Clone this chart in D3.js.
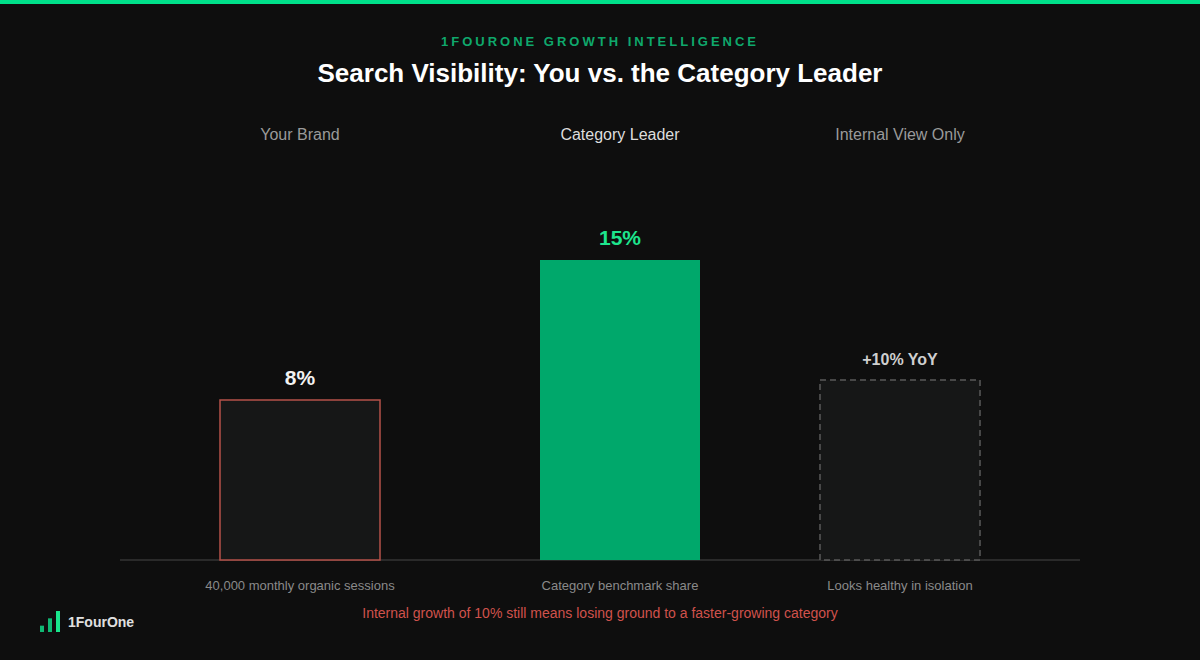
<!DOCTYPE html>
<html>
<head>
<meta charset="utf-8">
<script src="https://cdn.jsdelivr.net/npm/d3@7"></script>
<style>
  html, body { margin: 0; padding: 0; background: #0e0e0e; }
  svg { display: block; font-family: "Liberation Sans", Arial, sans-serif; }
</style>
</head>
<body>
<div id="chart"></div>
<script>
const categories = ["Your Brand", "Category Leader", "Internal View Only"];
const values = [8, 15, 9];
const valueLabels = ["8%", "15%", "+10% YoY"];
const notes = ["40,000 monthly organic sessions", "Category benchmark share", "Looks healthy in isolation"];
const logoBars = [1, 2, 3];

const width = 1200, height = 660;
const baseline = 560;

const svg = d3.select("#chart")
    .append("svg")
    .attr("width", width)
    .attr("height", height);

svg.append("rect").attr("width", width).attr("height", height).attr("fill", "#0e0e0e");
svg.append("rect").attr("width", width).attr("height", 4).attr("fill", "#00e08a");

svg.append("text")
    .attr("x", 600).attr("y", 46)
    .attr("text-anchor", "middle")
    .attr("fill", "#0fa86c")
    .attr("font-size", 13).attr("font-weight", "bold")
    .attr("letter-spacing", 3.0)
    .text("1FOURONE GROWTH INTELLIGENCE");

svg.append("text")
    .attr("x", 600).attr("y", 82)
    .attr("text-anchor", "middle")
    .attr("fill", "#ffffff")
    .attr("font-size", 26).attr("font-weight", "bold")
    .text("Search Visibility: You vs. the Category Leader");

// column centres are not evenly spaced in the original
const x = d3.scaleOrdinal()
    .domain(categories)
    .range([300, 620, 900]);
const barW = 160;

const y = d3.scaleLinear()
    .domain([0, 15])
    .range([baseline, 260]);

// column headers
svg.selectAll(".head")
    .data(categories)
    .join("text")
    .attr("x", d => x(d)).attr("y", 140)
    .attr("text-anchor", "middle")
    .attr("font-size", 16)
    .attr("fill", (d, i) => i === 1 ? "#dddddd" : "#9a9a9a")
    .text(d => d);

// axis line
svg.append("line")
    .attr("x1", 120).attr("x2", 1080)
    .attr("y1", baseline).attr("y2", baseline)
    .attr("stroke", "#2a2a2a").attr("stroke-width", 2);

const bars = svg.selectAll(".bar")
    .data(categories)
    .join("rect")
    .attr("x", d => x(d) - barW / 2)
    .attr("y", (d, i) => y(values[i]))
    .attr("width", barW)
    .attr("height", (d, i) => y(0) - y(values[i]));

bars.filter((d, i) => i === 0)
    .attr("fill", "#161717")
    .attr("stroke", "#b5524a").attr("stroke-width", 1.5);
bars.filter((d, i) => i === 1)
    .attr("fill", "#00a86b");
bars.filter((d, i) => i === 2)
    .attr("fill", "#161717")
    .attr("stroke", "#5a5a5a").attr("stroke-width", 1.5)
    .attr("stroke-dasharray", "6,4");

// value labels
svg.selectAll(".val")
    .data(categories)
    .join("text")
    .attr("x", d => x(d))
    .attr("y", (d, i) => y(values[i]) - 15)
    .attr("text-anchor", "middle")
    .attr("font-weight", "bold")
    .attr("font-size", (d, i) => i === 2 ? 16 : 21)
    .attr("fill", (d, i) => i === 0 ? "#f2f2f2" : i === 1 ? "#1de58d" : "#cfcfcf")
    .text((d, i) => valueLabels[i]);

// notes under bars
svg.selectAll(".note")
    .data(categories)
    .join("text")
    .attr("x", d => x(d)).attr("y", 590)
    .attr("text-anchor", "middle")
    .attr("font-size", 13)
    .attr("fill", "#8a8a8a")
    .text((d, i) => notes[i]);

svg.append("text")
    .attr("x", 600).attr("y", 618)
    .attr("text-anchor", "middle")
    .attr("font-size", 14)
    .attr("fill", "#d0524c")
    .text("Internal growth of 10% still means losing ground to a faster-growing category");

// logo
const logo = svg.append("g").attr("transform", "translate(40,632)");
const ly = d3.scaleLinear().domain([0, 3]).range([0, 22]);
logo.selectAll("rect")
    .data(logoBars)
    .join("rect")
    .attr("x", (d, i) => i * 8)
    .attr("y", d => -ly(d) + 1)
    .attr("width", 4)
    .attr("height", d => ly(d) - 1)
    .attr("fill", (d, i) => i === 2 ? "#19e68c" : "#10b873");
logo.append("text")
    .attr("x", 28).attr("y", -5)
    .attr("font-size", 14).attr("font-weight", "bold")
    .attr("fill", "#e0e0e0")
    .text("1FourOne");
</script>
</body>
</html>
